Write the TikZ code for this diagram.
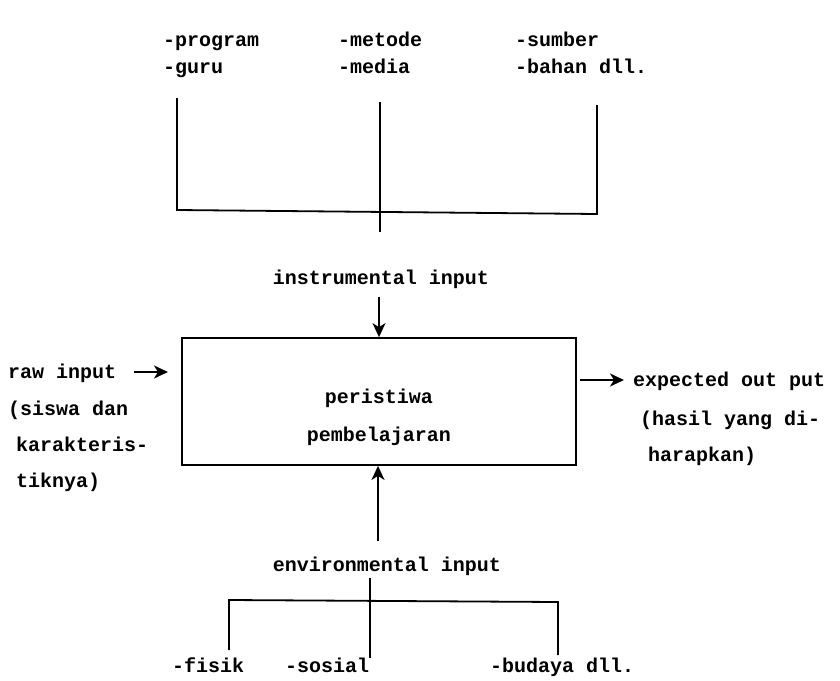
\documentclass[tikz,border=0pt]{standalone}
\usepackage{fontspec}
\setmonofont{Liberation Mono}
\usetikzlibrary{arrows.meta}
\tikzset{
  txt/.style={font=\ttfamily\bfseries\fontsize{20}{24}\selectfont, inner sep=0pt, anchor=base west},
  ctxt/.style={font=\ttfamily\bfseries\fontsize{20}{24}\selectfont, inner sep=0pt, anchor=base},
  ln/.style={line width=1.8pt},
  arr/.style={line width=1.8pt, -{Stealth[length=14pt,width=13pt,inset=4pt]}},
  box/.style={draw, line width=1.8pt, minimum width=394pt, minimum height=127pt, inner sep=0pt}
}
\begin{document}
\begin{tikzpicture}[x=1pt,y=-1pt]
\useasboundingbox (0,0) rectangle (840,680);
% top items
\node[txt] (prog) at (163,46) {-program};
\node[txt] (guru) at (163,73) {-guru};
\node[txt] (met) at (338,46) {-metode};
\node[txt] (med) at (338,73) {-media};
\node[txt] (sum) at (515,46) {-sumber};
\node[txt] (bah) at (515,73) {-bahan dll.};
% top bracket
\coordinate (t1) at (177,98);
\coordinate (t1b) at (177,210);
\coordinate (t2) at (380,102);
\coordinate (t2b) at (380,232);
\coordinate (t3) at (597,105);
\coordinate (t3b) at (597,214);
\draw[ln] (t1) -- (t1b) -- (t3b) -- (t3);
\draw[ln] (t2) -- (t2b);
\node[ctxt] (instr) at (381,284) {instrumental input};
% central box
\node[box] (pb) at (379,401.5) {};
\node[ctxt] (p1) at (379,403) {peristiwa};
\node[ctxt] (p2) at (379,441) {pembelajaran};
\coordinate (ia) at (379,297);
\draw[arr] (ia) -- (ia |- pb.north);
% left raw input
\node[txt] (raw) at (8,378) {raw input};
\node[txt] (raw2) at (8,415) {(siswa dan};
\node[txt] (raw3) at (16,451) {karakteris-};
\node[txt] (raw4) at (16,487) {tiknya)};
\coordinate (ra) at (134,372);
\coordinate (rb) at (168,372);
\draw[arr] (ra) -- (rb);
% right expected output
\coordinate (oa) at (580,380);
\coordinate (ob) at (624,380);
\draw[arr] (oa) -- (ob);
\node[txt] (exp) at (633,386) {expected out put};
\node[txt] (exp2) at (640,425) {(hasil yang di-};
\node[txt] (exp3) at (648,461) {harapkan)};
% bottom
\node[ctxt] (env) at (387,571) {environmental input};
\coordinate (ea) at (378,541);
\draw[arr] (ea) -- (ea |- pb.south);
\coordinate (b1) at (229,650);
\coordinate (b1t) at (229,600);
\coordinate (b2) at (370,578);
\coordinate (b2b) at (370,658);
\coordinate (b3t) at (558,602);
\coordinate (b3) at (558,655);
\draw[ln] (b1) -- (b1t) -- (b3t) -- (b3);
\draw[ln] (b2) -- (b2b);
\node[txt] (fis) at (172,672) {-fisik};
\node[txt] (sos) at (285,672) {-sosial};
\node[txt] (bud) at (490,672) {-budaya dll.};
\end{tikzpicture}
\end{document}
